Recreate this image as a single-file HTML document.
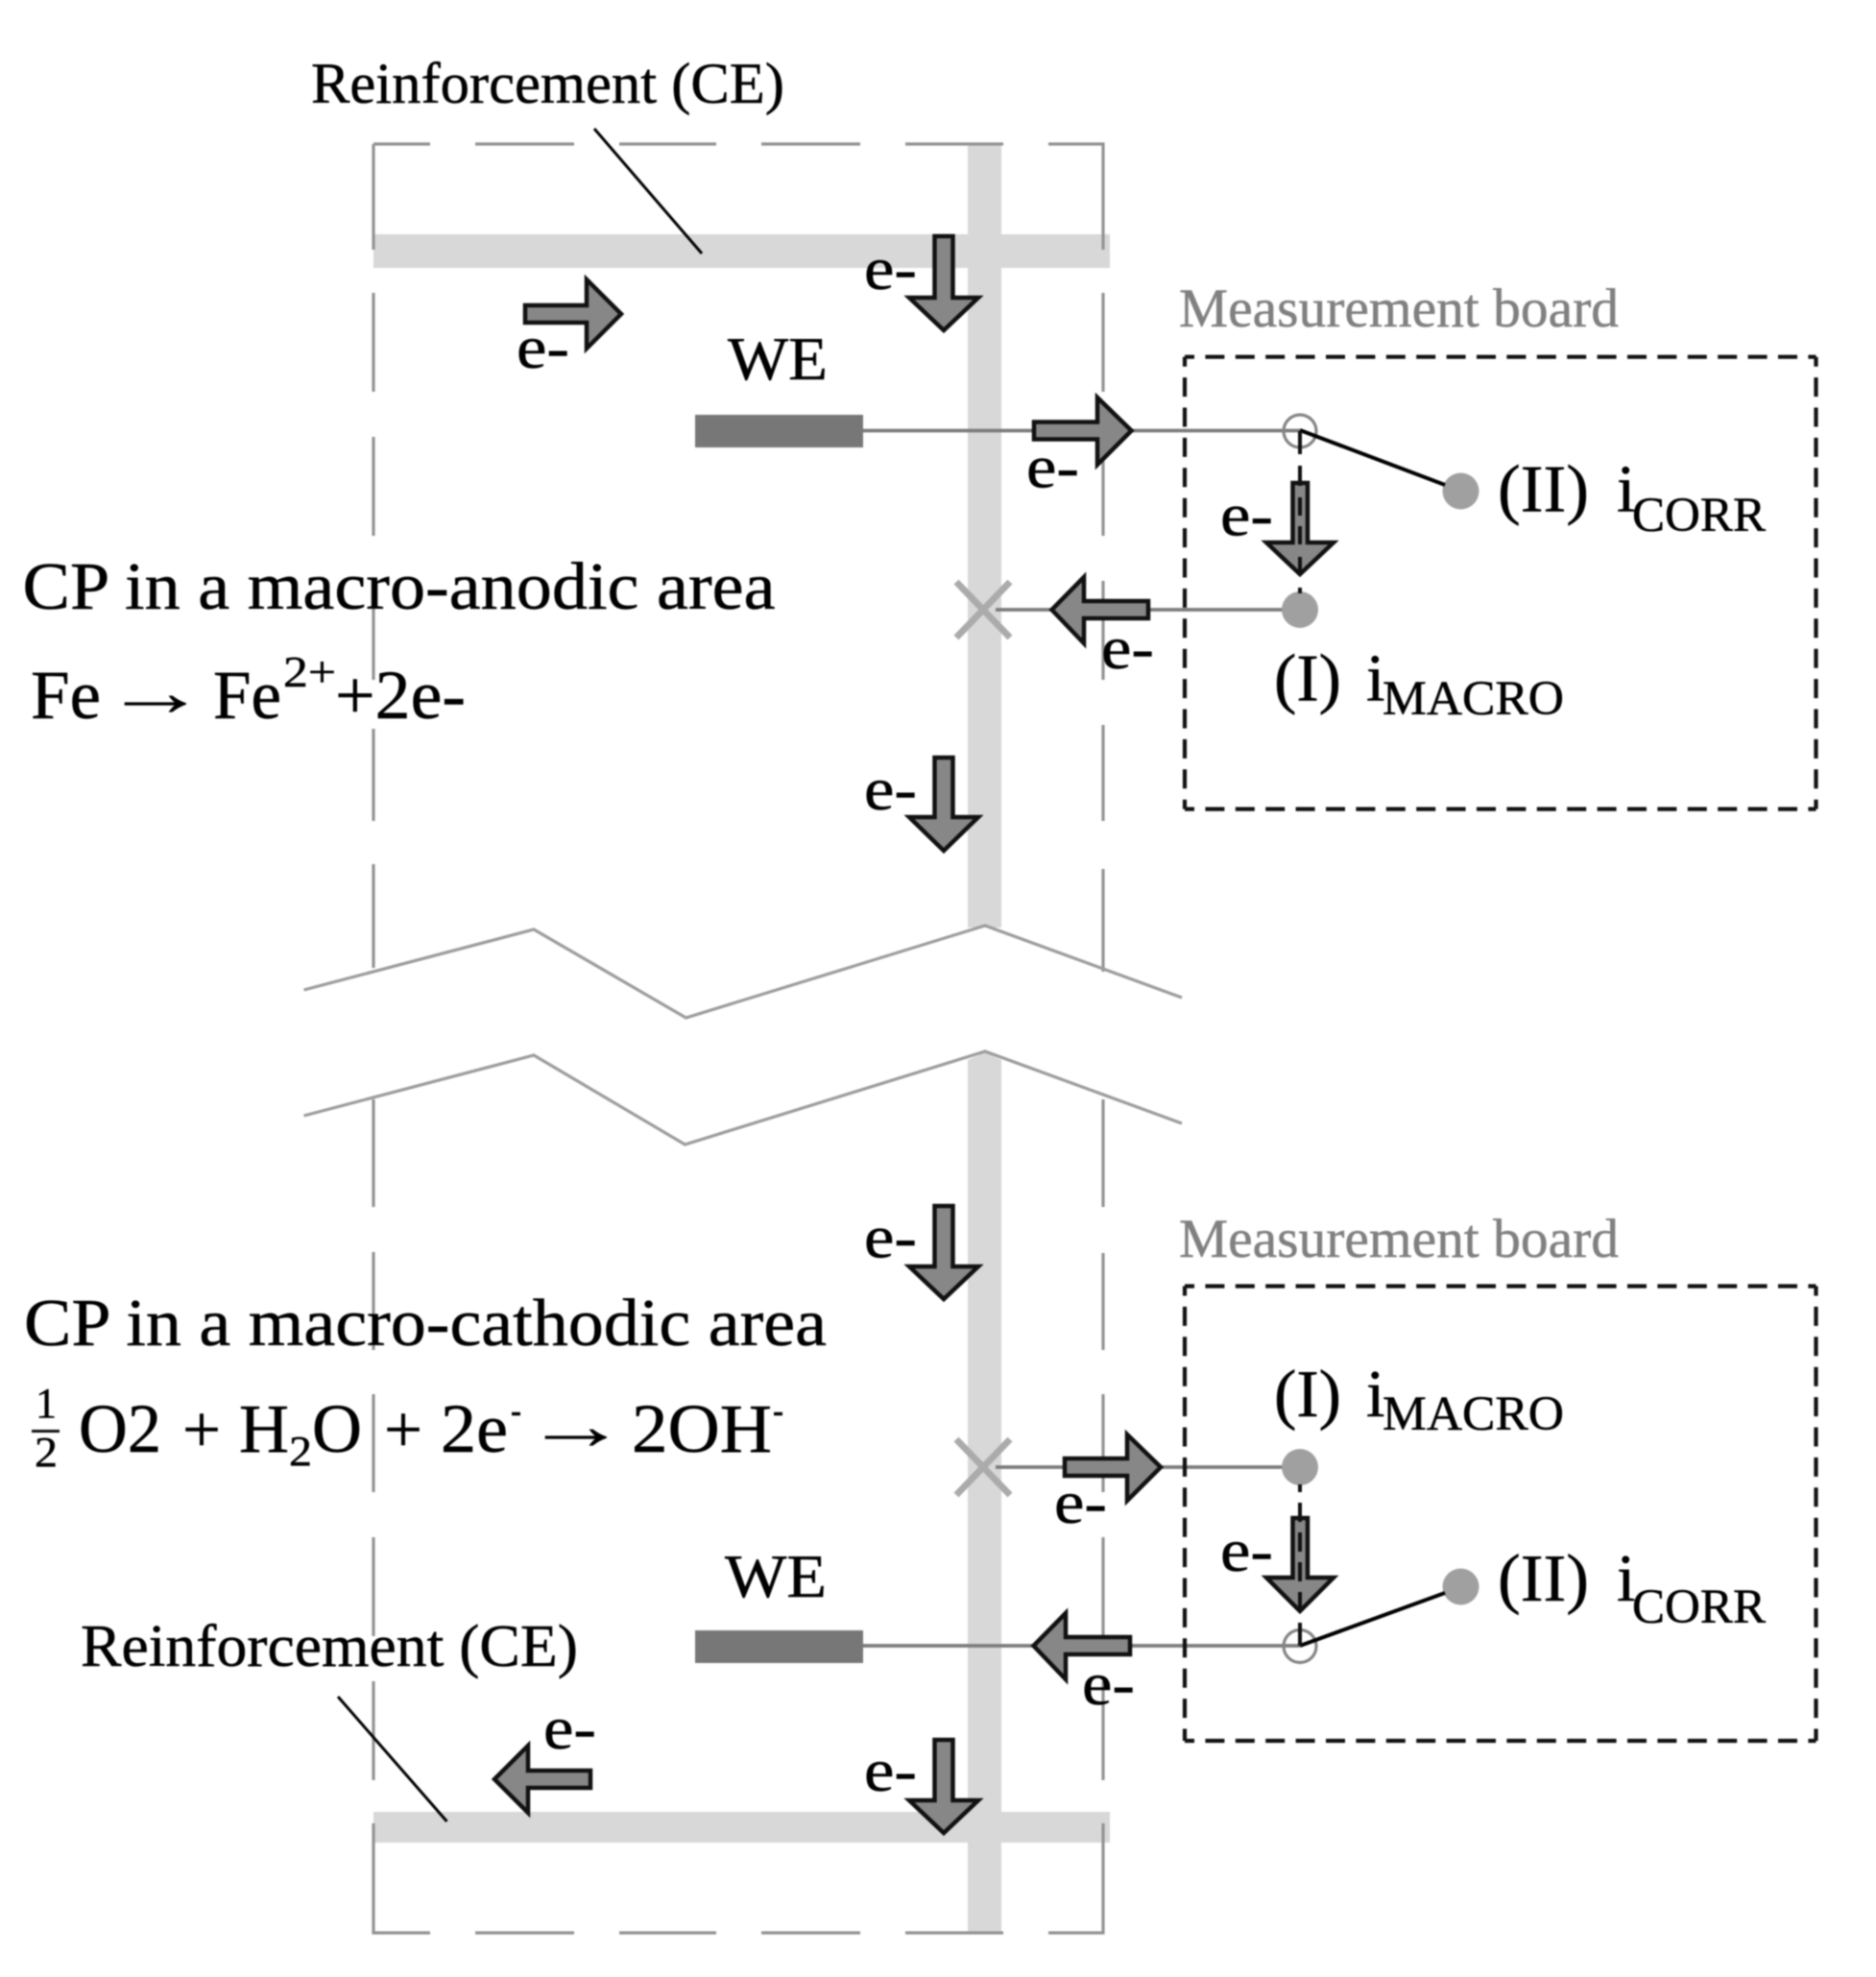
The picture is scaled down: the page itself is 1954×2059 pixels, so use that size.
<!DOCTYPE html>
<html>
<head>
<meta charset="utf-8">
<title>CP macro-cell diagram</title>
<style>
html,body{margin:0;padding:0;background:#fff;width:1954px;height:2059px;overflow:hidden}
svg{display:block;position:absolute;left:0;top:0;filter:blur(.7px)}
text{font-family:"Liberation Serif",serif;fill:#000;stroke:#000;stroke-width:.5px}
.g{fill:#808080;stroke:#808080}
.e{font-size:64px}
.a{fill:#878787;stroke:#111;stroke-width:4.5;stroke-linejoin:miter}
.o{stroke:#929292;stroke-width:3.2;fill:none}
.b{stroke:#111;stroke-width:4.2;stroke-dasharray:20 11.4;stroke-dashoffset:10;fill:none}
.w{stroke:#7c7c7c;stroke-width:3.8;fill:none}
.k{stroke:#000;stroke-width:3;fill:none}
.x{stroke:#ababab;stroke-width:7;fill:none}
.d{stroke:#111;stroke-width:4;fill:none}
.z{stroke:#9c9c9c;stroke-width:3.2;fill:none}
</style>
</head>
<body>
<svg width="1954" height="2059" viewBox="0 0 1954 2059" xmlns="http://www.w3.org/2000/svg">
<rect width="1954" height="2059" fill="#fff"/>

<!-- reinforcement bars -->
<rect x="389" y="244" width="767" height="35" fill="#d8d8d8"/>
<rect x="389" y="1887" width="767" height="32" fill="#d8d8d8"/>
<rect x="1008" y="150" width="35" height="816" fill="#d8d8d8"/>
<polygon points="1008,1104 1026,1096 1043,1104 1043,2013 1008,2013" fill="#d8d8d8"/>

<!-- outer dashed concrete outline -->
<path class="o" d="M389 150H448M495 150H598M645 150H746M793 150H896M943 150H1045M1092 150H1149V260M1149 305V408M1149 455V558M1149 605V708M1149 755V855M1149 905V1012"/>
<path class="o" d="M389 150V260M389 305V408M389 455V558M389 605V708M389 759V855M389 900V1008"/>
<path class="o" d="M389 1145V1257M389 1304V1406M389 1452V1554M389 1601V1704M389 1751V1854M389 1899V2013H448M495 2013H598M645 2013H746M793 2013H896M943 2013H1045M1092 2013H1149V1899M1149 1854V1751M1149 1704V1601M1149 1554V1452M1149 1406V1305M1149 1257V1145"/>

<!-- break lines -->
<polyline class="z" points="316.5,1031 556,968 714.5,1060 1026,964 1231,1039"/>
<polyline class="z" points="316.5,1162 556,1099 713.5,1192 1026,1095 1231,1170"/>

<!-- leaders -->
<line class="k" x1="619" y1="134" x2="731" y2="264"/>
<line class="k" x1="352" y1="1767" x2="465.5" y2="1897"/>

<!-- WE rects -->
<rect x="724" y="432" width="175" height="34" fill="#777"/>
<rect x="724" y="1698" width="175" height="34" fill="#777"/>

<!-- wires -->
<line class="w" x1="899" y1="448.5" x2="1354" y2="448.5"/>
<line class="w" x1="1037" y1="635" x2="1354" y2="635"/>
<line class="w" x1="1037" y1="1528" x2="1354" y2="1528"/>
<line class="w" x1="899" y1="1714" x2="1354" y2="1714"/>

<!-- X marks -->
<path class="x" d="M996 606L1052 664M1052 606L996 664"/>
<path class="x" d="M996 1499L1052 1557M1052 1499L996 1557"/>

<!-- measurement boards -->
<path class="b" d="M1234 371.7H1891.5M1234 371.7V842.6M1891.5 371.7V842.6M1234 842.6H1891.5"/>
<path class="b" d="M1234 1339.5H1891.5M1234 1339.5V1813M1891.5 1339.5V1813M1234 1813H1891.5"/>

<!-- switch nodes -->
<circle cx="1354" cy="449" r="17" fill="none" stroke="#858585" stroke-width="3.2"/>
<circle cx="1354" cy="1714.5" r="17" fill="none" stroke="#858585" stroke-width="3.2"/>
<circle cx="1521.5" cy="511.5" r="19" fill="#a0a0a0"/>
<circle cx="1354" cy="635" r="19" fill="#a0a0a0"/>
<circle cx="1354" cy="1528" r="19" fill="#a0a0a0"/>
<circle cx="1521.5" cy="1652.5" r="19" fill="#a0a0a0"/>
<line class="k" style="stroke-width:4" x1="1354" y1="448" x2="1505" y2="505"/>
<line class="k" style="stroke-width:4" x1="1354" y1="1714" x2="1505" y2="1659"/>

<!-- horizontal arrows -->
<polygon class="a" points="547,318 611,318 611,291 647,327 611,363 611,336 547,336"/>
<polygon class="a" points="1077,439.5 1143,439.5 1143,414 1178.5,448.5 1143,484 1143,457.5 1077,457.5"/>
<polygon class="a" points="1196,626 1129,626 1129,601 1095.5,635 1129,670 1129,644 1196,644"/>
<polygon class="a" points="1109,1519 1174,1519 1174,1494 1209,1528 1174,1563 1174,1537 1109,1537"/>
<polygon class="a" points="1177,1705 1110,1705 1110,1680 1076.5,1714 1110,1749 1110,1723 1177,1723"/>
<polygon class="a" points="615,1844 550,1844 550,1818 515,1853 550,1888 550,1862 615,1862"/>

<!-- vertical arrows -->
<polygon class="a" points="973.5,246 992.5,246 992.5,310 1019,310 983,344 947,310 973.5,310"/>
<polygon class="a" points="973.5,789 992.5,789 992.5,851 1019,851 983,886 947,851 973.5,851"/>
<polygon class="a" points="973.5,1256 992.5,1256 992.5,1319 1019,1319 983,1353 947,1319 973.5,1319"/>
<polygon class="a" points="973.5,1812 992.5,1812 992.5,1875 1019,1875 983,1909 947,1875 973.5,1875"/>
<polygon class="a" points="1346.5,503 1362,503 1362,565 1389,565 1354,598 1319,565 1346.5,565"/>
<polygon class="a" points="1346.5,1581 1362,1581 1362,1643 1389,1643 1354,1678 1319,1643 1346.5,1643"/>

<!-- dashed switch paths -->
<path class="d" d="M1354 449V473M1354 485V506M1354 518V537M1354 548V567M1354 580V597M1354 612V618"/>
<path class="d" d="M1354 1546V1554M1354 1565V1585M1354 1596V1616M1354 1627V1647M1354 1658V1676M1354 1690V1714"/>

<!-- labels -->
<text x="324" y="107" font-size="60" textLength="493" lengthAdjust="spacingAndGlyphs">Reinforcement (CE)</text>
<text x="84" y="1735" font-size="62" textLength="518" lengthAdjust="spacingAndGlyphs">Reinforcement (CE)</text>
<text x="758" y="395" font-size="64" textLength="104" lengthAdjust="spacingAndGlyphs">WE</text>
<text x="755" y="1663" font-size="64" textLength="106" lengthAdjust="spacingAndGlyphs">WE</text>

<text class="e" x="538" y="383" textLength="55" lengthAdjust="spacingAndGlyphs">e-</text>
<text class="e" x="900" y="301" textLength="55" lengthAdjust="spacingAndGlyphs">e-</text>
<text class="e" x="900" y="843" textLength="55" lengthAdjust="spacingAndGlyphs">e-</text>
<text class="e" x="1069" y="507.5" textLength="55" lengthAdjust="spacingAndGlyphs">e-</text>
<text class="e" x="1271" y="557.5" textLength="55" lengthAdjust="spacingAndGlyphs">e-</text>
<text class="e" x="1147" y="696" textLength="55" lengthAdjust="spacingAndGlyphs">e-</text>
<text class="e" x="900" y="1309.5" textLength="55" lengthAdjust="spacingAndGlyphs">e-</text>
<text class="e" x="1098" y="1586" textLength="55" lengthAdjust="spacingAndGlyphs">e-</text>
<text class="e" x="1271" y="1636" textLength="55" lengthAdjust="spacingAndGlyphs">e-</text>
<text class="e" x="1127" y="1775" textLength="55" lengthAdjust="spacingAndGlyphs">e-</text>
<text class="e" x="566" y="1821" textLength="55" lengthAdjust="spacingAndGlyphs">e-</text>
<text class="e" x="900" y="1865" textLength="55" lengthAdjust="spacingAndGlyphs">e-</text>

<text class="g" x="1228" y="340" font-size="57" textLength="458" lengthAdjust="spacingAndGlyphs">Measurement board</text>
<text class="g" x="1228" y="1309" font-size="57" textLength="458" lengthAdjust="spacingAndGlyphs">Measurement board</text>

<text x="1560" y="532.5" font-size="70" textLength="95" lengthAdjust="spacingAndGlyphs">(II)</text>
<text x="1684" y="532.5" font-size="70">i</text>
<text x="1700" y="553" font-size="51" textLength="139" lengthAdjust="spacingAndGlyphs">CORR</text>
<text x="1327" y="729.5" font-size="70" textLength="70" lengthAdjust="spacingAndGlyphs">(I)</text>
<text x="1423" y="729.5" font-size="70">i</text>
<text x="1440" y="744" font-size="51" textLength="189" lengthAdjust="spacingAndGlyphs">MACRO</text>
<text x="1327" y="1475" font-size="70" textLength="70" lengthAdjust="spacingAndGlyphs">(I)</text>
<text x="1423" y="1475" font-size="70">i</text>
<text x="1440" y="1489" font-size="51" textLength="189" lengthAdjust="spacingAndGlyphs">MACRO</text>
<text x="1560" y="1667" font-size="70" textLength="95" lengthAdjust="spacingAndGlyphs">(II)</text>
<text x="1684" y="1667" font-size="70">i</text>
<text x="1700" y="1690" font-size="51" textLength="139" lengthAdjust="spacingAndGlyphs">CORR</text>

<text x="23.5" y="634" font-size="70" textLength="784" lengthAdjust="spacingAndGlyphs">CP in a macro-anodic area</text>
<text x="32" y="748" font-size="72" textLength="73" lengthAdjust="spacingAndGlyphs">Fe</text>
<text x="108" y="745" font-size="72" textLength="108" lengthAdjust="spacingAndGlyphs" style="stroke-width:.2px">→</text>
<text x="222" y="748" font-size="72" textLength="71" lengthAdjust="spacingAndGlyphs">Fe</text>
<text x="295" y="715" font-size="46" textLength="55" lengthAdjust="spacingAndGlyphs">2+</text>
<text x="349" y="748" font-size="72" textLength="136" lengthAdjust="spacingAndGlyphs">+2e-</text>

<text x="25" y="1401" font-size="70" textLength="836" lengthAdjust="spacingAndGlyphs">CP in a macro-cathodic area</text>
<text x="37" y="1476" font-size="44" textLength="22" lengthAdjust="spacingAndGlyphs">1</text>
<rect x="33" y="1489" width="29" height="3" fill="#111"/>
<text x="36" y="1527" font-size="44" textLength="24" lengthAdjust="spacingAndGlyphs">2</text>
<text x="82" y="1512" font-size="72" textLength="86" lengthAdjust="spacingAndGlyphs">O2</text>
<text x="190" y="1512" font-size="70" textLength="40" lengthAdjust="spacingAndGlyphs">+</text>
<text x="249" y="1512" font-size="72" textLength="52" lengthAdjust="spacingAndGlyphs">H</text>
<text x="301" y="1526" font-size="44" textLength="24" lengthAdjust="spacingAndGlyphs">2</text>
<text x="325" y="1512" font-size="72" textLength="52" lengthAdjust="spacingAndGlyphs">O</text>
<text x="400" y="1512" font-size="70" textLength="40" lengthAdjust="spacingAndGlyphs">+</text>
<text x="459" y="1512" font-size="72" textLength="70" lengthAdjust="spacingAndGlyphs">2e</text>
<text x="532" y="1482" font-size="40" textLength="11" lengthAdjust="spacingAndGlyphs">-</text>
<text x="546" y="1509" font-size="72" textLength="108" lengthAdjust="spacingAndGlyphs" style="stroke-width:.2px">→</text>
<text x="658" y="1512" font-size="72" textLength="146" lengthAdjust="spacingAndGlyphs">2OH</text>
<text x="805" y="1482" font-size="40" textLength="11" lengthAdjust="spacingAndGlyphs">-</text>
</svg>
</body>
</html>
